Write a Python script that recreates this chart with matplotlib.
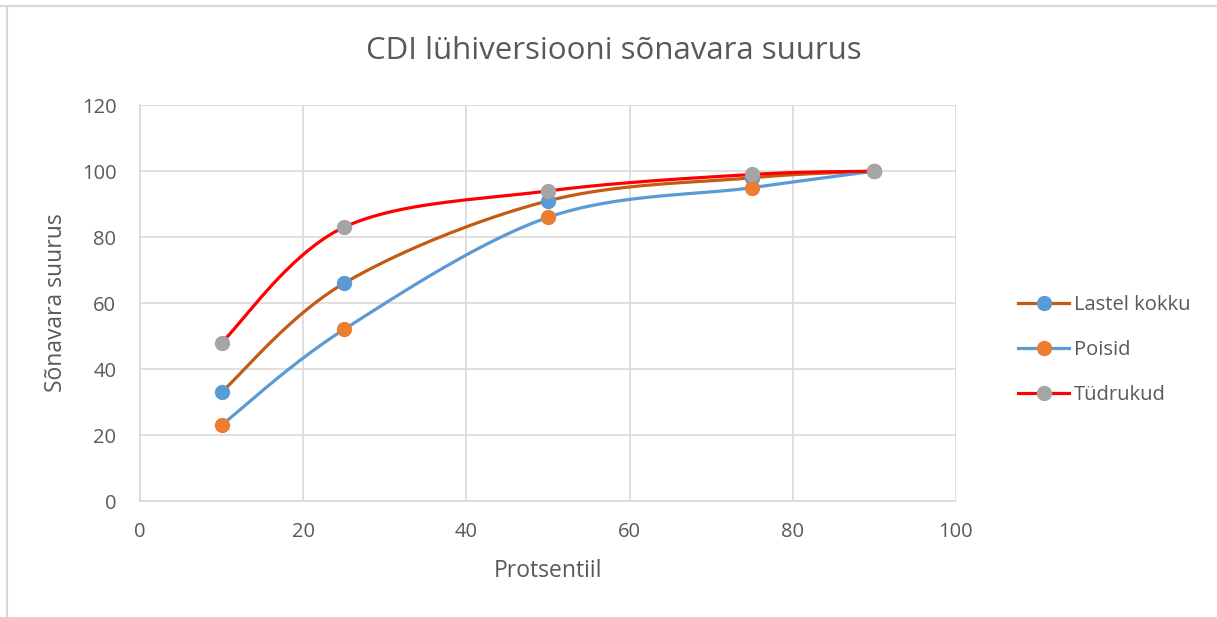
import numpy as np
import matplotlib.pyplot as plt
from matplotlib.lines import Line2D

plt.rcParams['font.family'] = ['Open Sans', 'DejaVu Sans']

protsentiil = [10, 25, 50, 75, 90]
lastel_kokku = [33, 66, 91, 98, 100]
poisid = [23, 52, 86, 95, 100]
tudrukud = [48, 83, 94, 99, 100]


def excel_smooth(x, y, n=40):
    # Bezier through points, control points like Excel's smoothed line
    p = np.column_stack([x, y]).astype(float)
    ext = np.vstack([p[0], p, p[-1]])
    out = []
    for i in range(len(p) - 1):
        p0, p1, p2, p3 = ext[i], ext[i + 1], ext[i + 2], ext[i + 3]
        c1 = p1 + (p2 - p0) / 6
        c2 = p2 - (p3 - p1) / 6
        t = np.linspace(0, 1, n)[:, None]
        seg = ((1 - t) ** 3) * p1 + 3 * ((1 - t) ** 2) * t * c1 + 3 * (1 - t) * t ** 2 * c2 + t ** 3 * p2
        out.append(seg if i == 0 else seg[1:])
    s = np.vstack(out)
    return s[:, 0], s[:, 1]


fig = plt.figure(figsize=(12.17, 6.17), dpi=100)
ax = fig.add_axes([0.115, 0.188, 0.6705, 0.6415])

series = [
    ('Lastel kokku', lastel_kokku, '#C55A11', '#5B9BD5'),
    ('Poisid', poisid, '#5B9BD5', '#ED7D31'),
    ('Tüdrukud', tudrukud, '#FF0000', '#A5A5A5'),
]
for name, vals, lc, mc in series:
    sx, sy = excel_smooth(protsentiil, vals)
    ax.plot(sx, sy, color=lc, lw=2.3, zorder=3)
    ax.plot(protsentiil, vals, 'o', color=mc, ms=10, zorder=4)
    ax.plot([], [], color=lc, lw=2.3, marker='o', mfc=mc, mec=mc, ms=10, label=name)

ax.set_xlim(0, 100)
ax.set_ylim(0, 120)
ax.set_xticks(range(0, 101, 20))
ax.set_yticks(range(0, 121, 20))
ax.grid(True, color='#D9D9D9', lw=1.2)
ax.set_axisbelow(True)
for side in ['top', 'right']:
    ax.spines[side].set_visible(False)
for side in ['left', 'bottom']:
    ax.spines[side].set_color('#D9D9D9')
    ax.spines[side].set_linewidth(1.2)
ax.tick_params(length=0, labelsize=14.5, colors='#595959')
ax.tick_params(axis='x', pad=15)
ax.tick_params(axis='y', pad=17)

fig.text(0.504, 0.918, 'CDI lühiversiooni sõnavara suurus', fontsize=22.5,
         color='#595959', ha='center', va='center')
ax.set_xlabel('Protsentiil', fontsize=16.5, color='#595959', labelpad=12)
ax.set_ylabel('Sõnavara suurus', fontsize=16.5, color='#595959', labelpad=10)

fig.legend(loc='center left', bbox_to_anchor=(0.822, 0.433), frameon=False,
           fontsize=14.5, labelcolor='#595959', handlelength=2.5, handletextpad=0.25,
           labelspacing=1.25)

# chart frame, only top and left edges show in the picture
fig.add_artist(Line2D([0, 1], [0.99, 0.99], transform=fig.transFigure, color='#D9D9D9', lw=1.5))
fig.add_artist(Line2D([0.006, 0.006], [0, 0.99], transform=fig.transFigure, color='#D9D9D9', lw=1.5))

fig.savefig('out.png', dpi=100)
